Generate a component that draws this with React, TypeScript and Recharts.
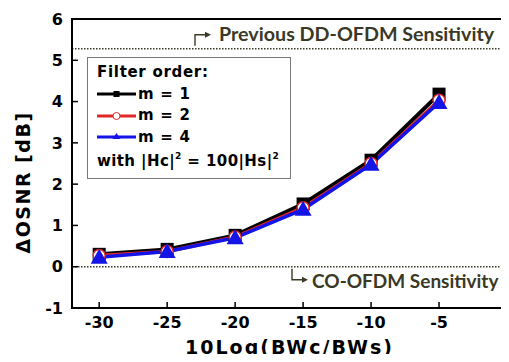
import React from "react";
import {
  LineChart,
  Line,
  XAxis,
  YAxis,
  ReferenceLine,
  ReferenceArea,
} from "recharts";

const bwRatio = [-30, -25, -20, -15, -10, -5];
const order1 = [0.3, 0.42, 0.76, 1.52, 2.58, 4.18];
const order2 = [0.27, 0.37, 0.72, 1.43, 2.5, 4.03];
const order4 = [0.23, 0.37, 0.7, 1.39, 2.48, 3.98];
const xTicks = [-30, -25, -20, -15, -10, -5, 0];
const yTicks = [-1, 0, 1, 2, 3, 4, 5, 6];
const ddOfdmSensitivity = 5.28;
const coOfdmSensitivity = 0;

const data = bwRatio.map((x, i) => ({
  x,
  m1: order1[i],
  m2: order2[i],
  m4: order4[i],
}));

const FONT = "'DejaVu Sans', Verdana, sans-serif";
const NOTE_FONT = "Lato, 'Open Sans', sans-serif";
const NOTE_COLOR = "#3a3926";

const SquareDot = (props: any) => {
  const { cx, cy } = props;
  if (cx == null || cy == null) return null;
  return <rect x={cx - 6.5} y={cy - 6.5} width={13} height={13} fill="#000" />;
};

const CircleDot = (props: any) => {
  const { cx, cy } = props;
  if (cx == null || cy == null) return null;
  return <circle cx={cx} cy={cy} r={6} fill="#fff" stroke="#e02828" strokeWidth={1.5} />;
};

const TriangleDot = (props: any) => {
  const { cx, cy } = props;
  if (cx == null || cy == null) return null;
  return (
    <polygon
      points={`${cx},${cy - 8.5} ${cx - 8.5},${cy + 6.5} ${cx + 8.5},${cy + 6.5}`}
      fill="#1414e6"
    />
  );
};

const TopNote = (props: any) => {
  const { viewBox } = props;
  const y = viewBox.y;
  const ax = 195;
  return (
    <g>
      <path d={`M${ax},${y - 3} V${y - 14} H${ax + 11}`} stroke={NOTE_COLOR} strokeWidth={1.4} fill="none" />
      <path d={`M${ax + 10},${y - 17} L${ax + 16},${y - 14} L${ax + 10},${y - 11} Z`} fill={NOTE_COLOR} />
      <text x={ax + 24} y={y - 15} dominantBaseline="central" fontFamily={NOTE_FONT} fontWeight="bold" fontSize={19.7} fill={NOTE_COLOR}>
        Previous DD-OFDM Sensitivity
      </text>
    </g>
  );
};

const BottomNote = (props: any) => {
  const { viewBox } = props;
  const y = viewBox.y;
  const ax = 292;
  return (
    <g>
      <path d={`M${ax},${y + 2} V${y + 13} H${ax + 11}`} stroke={NOTE_COLOR} strokeWidth={1.4} fill="none" />
      <path d={`M${ax + 10},${y + 10} L${ax + 16},${y + 13} L${ax + 10},${y + 16} Z`} fill={NOTE_COLOR} />
      <text x={ax + 20} y={y + 14} dominantBaseline="central" fontFamily={NOTE_FONT} fontWeight="bold" fontSize={19} fill={NOTE_COLOR}>
        CO-OFDM Sensitivity
      </text>
    </g>
  );
};

const YTitle = (props: any) => {
  const { viewBox } = props;
  const cx = 23;
  const cy = viewBox.y + viewBox.height / 2 + 19;
  return (
    <text
      x={cx}
      y={cy}
      transform={`rotate(-90, ${cx}, ${cy})`}
      textAnchor="middle"
      dominantBaseline="central"
      fontFamily={FONT}
      fontWeight="bold"
      fontSize={19}
      letterSpacing={1.5}
      fill="#000"
    >
      {"\u0394OSNR [dB]"}
    </text>
  );
};

const LegendIcon = ({ color, kind }: { color: string; kind: string }) => (
  <svg width={39} height={12} style={{ verticalAlign: "middle" }}>
    <line x1={0} y1={6} x2={39} y2={6} stroke={color} strokeWidth={3} />
    {kind === "square" && <rect x={16.5} y={3} width={6} height={6} fill={color} />}
    {kind === "circle" && <circle cx={19.5} cy={6} r={3.5} fill="#fff" stroke={color} strokeWidth={1} />}
    {kind === "triangle" && <polygon points="19.5,2 15.5,8 23.5,8" fill={color} />}
  </svg>
);

const legendRows = [
  { label: "m = 1", color: "#000", kind: "square" },
  { label: "m = 2", color: "#e02828", kind: "circle" },
  { label: "m = 4", color: "#1414e6", kind: "triangle" },
];

export default function App() {
  return (
    <div style={{ margin: -8, width: 509, height: 362, overflow: "hidden", position: "relative", background: "#fff" }}>
      <LineChart
        width={509}
        height={362}
        data={data}
        margin={{ top: 19, right: 2, left: 0, bottom: 0 }}
      >
        <XAxis
          dataKey="x"
          type="number"
          domain={[-32, 0]}
          ticks={xTicks}
          interval={0}
          allowDataOverflow
          height={54}
          axisLine={{ stroke: "#000", strokeWidth: 2 }}
          tickLine={{ stroke: "#000", strokeWidth: 1.5 }}
          tickSize={-6}
          tickMargin={15}
          tick={{ fill: "#000", fontSize: 16, fontWeight: "bold", fontFamily: FONT }}
          label={{
            value: "10Log(BWc/BWs)",
            position: "insideBottom",
            offset: 0,
            dy: -8,
            style: { fill: "#000", fontSize: 19, fontWeight: "bold", fontFamily: FONT, letterSpacing: 2 },
          }}
        />
        <YAxis
          type="number"
          domain={[-1, 6]}
          ticks={yTicks}
          interval={0}
          width={72}
          axisLine={{ stroke: "#000", strokeWidth: 2 }}
          tickLine={{ stroke: "#000", strokeWidth: 1.5 }}
          tickSize={-6}
          tickMargin={15}
          tick={{ fill: "#000", fontSize: 16, fontWeight: "bold", fontFamily: FONT }}
          label={<YTitle />}
        />
        <ReferenceArea
          x1={-32}
          x2={0}
          y1={-1}
          y2={6}
          fill="none"
          stroke="#000"
          strokeWidth={2}
          ifOverflow="visible"
        />
        <ReferenceLine
          y={ddOfdmSensitivity}
          stroke={NOTE_COLOR}
          strokeWidth={1.5}
          strokeDasharray="1.5 1.5"
          label={<TopNote />}
        />
        <ReferenceLine
          y={coOfdmSensitivity}
          stroke={NOTE_COLOR}
          strokeWidth={1.5}
          strokeDasharray="1.5 1.5"
          label={<BottomNote />}
        />
        <Line dataKey="m1" stroke="#000" strokeWidth={4} dot={<SquareDot />} isAnimationActive={false} />
        <Line dataKey="m2" stroke="#e02828" strokeWidth={3.5} dot={<CircleDot />} isAnimationActive={false} />
        <Line dataKey="m4" stroke="#1414e6" strokeWidth={3.5} dot={<TriangleDot />} isAnimationActive={false} />
      </LineChart>
      <div
        style={{
          position: "absolute",
          left: 87,
          top: 57,
          width: 204,
          height: 122,
          border: "1.5px solid #777",
          background: "#fff",
          boxSizing: "border-box",
          padding: "4px 0 0 9px",
          fontFamily: FONT,
          fontWeight: "bold",
          fontSize: 15,
          color: "#000",
          lineHeight: "21.5px",
          letterSpacing: 0.7,
          whiteSpace: "nowrap",
        }}
      >
        <div>Filter order:</div>
        {legendRows.map((r) => (
          <div key={r.label} style={{ display: "flex", alignItems: "center" }}>
            <LegendIcon color={r.color} kind={r.kind} />
            <span style={{ marginLeft: 2 }}>{r.label}</span>
          </div>
        ))}
        <div style={{ marginTop: 3, letterSpacing: 0.4 }}>
          with |Hc|<sup style={{ fontSize: 9, verticalAlign: "7px", lineHeight: 0 }}>2</sup> = 100|Hs|<sup style={{ fontSize: 9, verticalAlign: "7px", lineHeight: 0 }}>2</sup>
        </div>
      </div>
    </div>
  );
}
